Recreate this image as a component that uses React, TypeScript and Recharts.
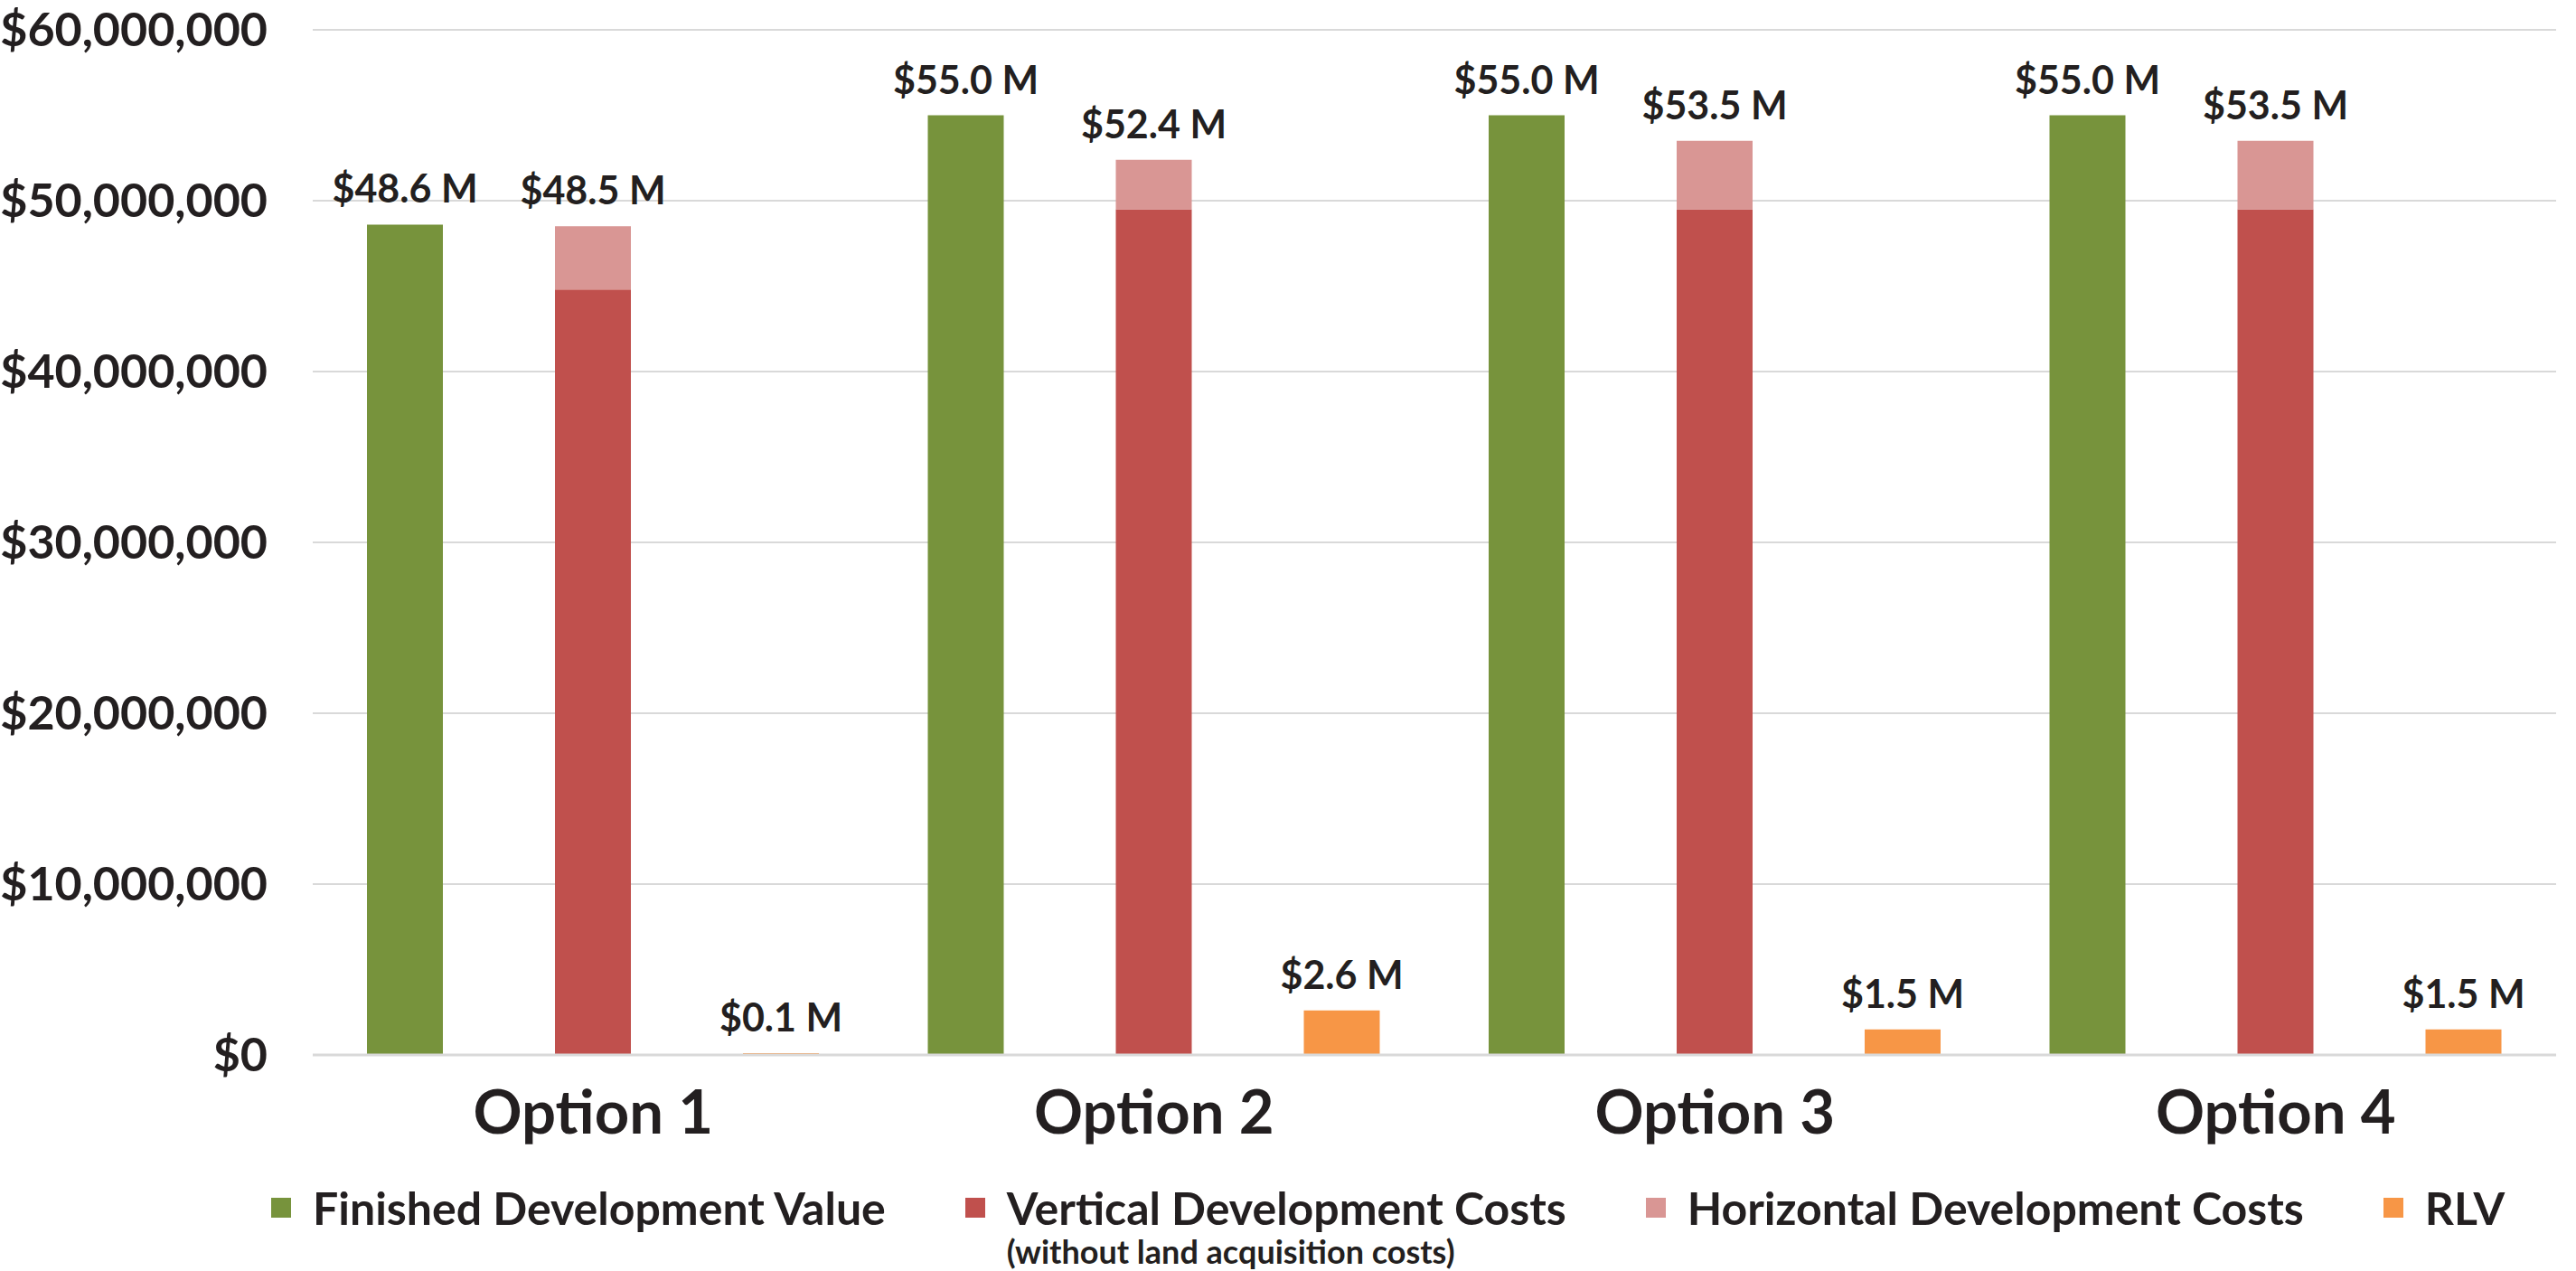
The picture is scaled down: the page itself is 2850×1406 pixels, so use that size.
import React from "react";
import { BarChart, Bar, XAxis, YAxis, CartesianGrid, Legend, LabelList } from "recharts";

const FONT = "Lato, 'Open Sans', sans-serif";
const INK = "#231F20";

// values in dollars
const OPTIONS = ["Option 1", "Option 2", "Option 3", "Option 4"];
const FINISHED_VALUE = [48600000, 55000000, 55000000, 55000000];
const VERTICAL_COSTS = [44800000, 49500000, 49500000, 49500000];
const HORIZONTAL_COSTS = [3700000, 2900000, 4000000, 4000000];
const RLV = [100000, 2600000, 1500000, 1500000];
const Y_TICKS = [0, 10000000, 20000000, 30000000, 40000000, 50000000, 60000000];

const COLORS = {
  finished: "#77933C",
  vertical: "#C0504D",
  horizontal: "#D99694",
  rlv: "#F79646",
};

const LEGEND_ITEMS = [
  { key: "finished", label: "Finished Development Value" },
  { key: "vertical", label: "Vertical Development Costs", note: "(without land acquisition costs)" },
  { key: "horizontal", label: "Horizontal Development Costs" },
  { key: "rlv", label: "RLV" },
];

const data = OPTIONS.map((name, i) => ({
  name,
  finished: FINISHED_VALUE[i],
  vertical: VERTICAL_COSTS[i],
  horizontal: HORIZONTAL_COSTS[i],
  totalCost: VERTICAL_COSTS[i] + HORIZONTAL_COSTS[i],
  rlv: RLV[i],
}));

function millions(v: any) {
  return `$${(Number(v) / 1e6).toFixed(1)} M`;
}

function dollars(v: number) {
  return `$${v.toLocaleString("en-US")}`;
}

const labelStyle = { fontSize: 43, fontWeight: 700, fill: INK, fontFamily: FONT };

function OptionTick({ x, y, payload }: any) {
  return (
    <text
      x={x}
      y={y + 87}
      textAnchor="middle"
      fontSize={67}
      fontWeight={700}
      fill={INK}
      fontFamily={FONT}
    >
      {payload.value}
    </text>
  );
}

function ChartLegend() {
  return (
    <div
      style={{
        height: 110,
        display: "flex",
        alignItems: "flex-start",
        gap: 88,
        paddingLeft: 300,
        paddingTop: 10,
        boxSizing: "border-box",
        fontFamily: FONT,
        fontWeight: 700,
        color: INK,
      }}
    >
      {LEGEND_ITEMS.map((item) => (
        <div key={item.key} style={{ display: "flex", alignItems: "flex-start", gap: 24 }}>
          <span
            style={{
              width: 22,
              height: 22,
              marginTop: 19,
              background: COLORS[item.key as keyof typeof COLORS],
              flexShrink: 0,
            }}
          />
          <div style={{ display: "flex", flexDirection: "column" }}>
            <span style={{ fontSize: 50, lineHeight: "60px" }}>{item.label}</span>
            {item.note && <span style={{ fontSize: 36, lineHeight: "36px" }}>{item.note}</span>}
          </div>
        </div>
      ))}
    </div>
  );
}

export default function App() {
  return (
    <div style={{ position: "absolute", left: 0, top: 0, background: "#fff" }}>
      <BarChart
        width={2850}
        height={1406}
        data={data}
        margin={{ top: 33, right: 22, bottom: 0, left: 0 }}
        barSize={84}
        barGap={124}
      >
        <CartesianGrid vertical={false} stroke="#D9D9D9" strokeWidth={2} />
        <XAxis
          dataKey="name"
          height={129}
          axisLine={{ stroke: "#D9D9D9", strokeWidth: 3 }}
          tickLine={false}
          tickSize={0}
          tickMargin={0}
          tick={<OptionTick />}
          interval={0}
        />
        <YAxis
          width={346}
          domain={[0, 60000000]}
          ticks={Y_TICKS}
          axisLine={false}
          tickLine={false}
          tickSize={0}
          tickMargin={50}
          tickFormatter={dollars}
          tick={{ fontSize: 52, fontWeight: 700, fill: INK, fontFamily: FONT }}
        />
        <Legend verticalAlign="bottom" content={<ChartLegend />} wrapperStyle={{ left: 0, width: 2850 }} />
        <Bar dataKey="finished" stackId="fdv" fill={COLORS.finished} isAnimationActive={false}>
          <LabelList dataKey="finished" position="top" offset={24} formatter={millions} style={labelStyle} />
        </Bar>
        <Bar dataKey="vertical" stackId="cost" fill={COLORS.vertical} isAnimationActive={false} />
        <Bar dataKey="horizontal" stackId="cost" fill={COLORS.horizontal} isAnimationActive={false}>
          <LabelList dataKey="totalCost" position="top" offset={24} formatter={millions} style={labelStyle} />
        </Bar>
        <Bar dataKey="rlv" stackId="rlv" fill={COLORS.rlv} isAnimationActive={false}>
          <LabelList dataKey="rlv" position="top" offset={24} formatter={millions} style={labelStyle} />
        </Bar>
      </BarChart>
    </div>
  );
}
